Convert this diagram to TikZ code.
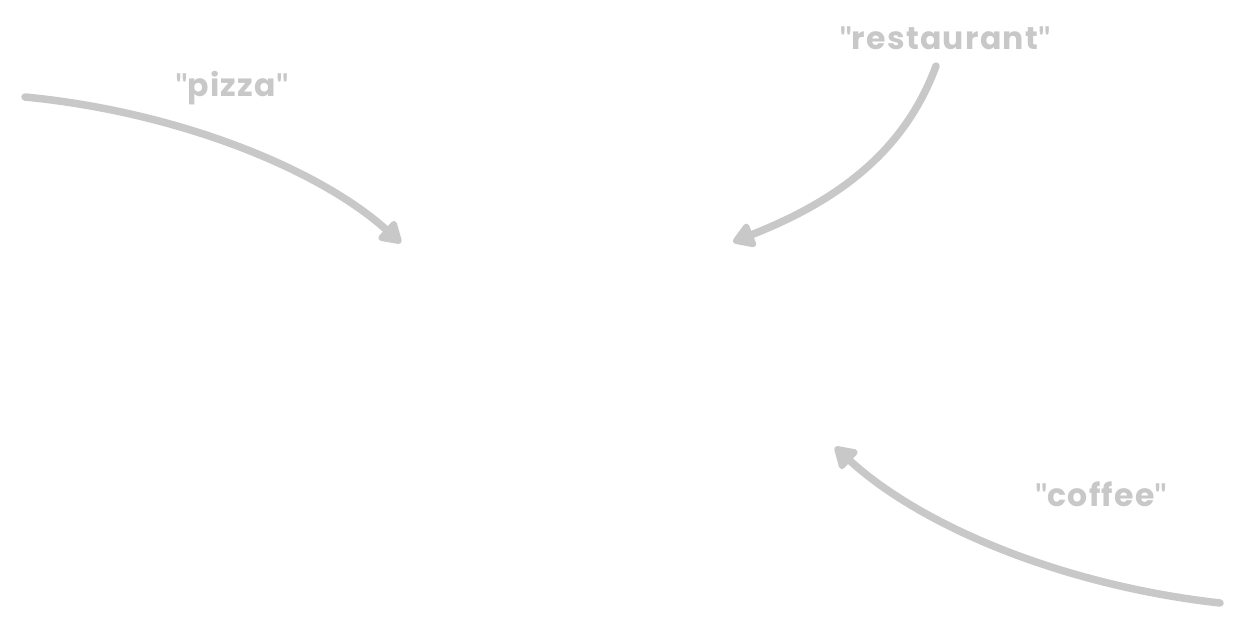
\documentclass[tikz,border=0pt]{standalone}
\usepackage{fontspec}
\setmainfont{Poppins}[LetterSpace=4]
\newfontfamily\quotefont{Lato}
\newcommand{\sq}{{\quotefont\bfseries\symbol{34}}}
\usetikzlibrary{arrows.meta}
\definecolor{sketchgray}{HTML}{C8C8C8}
\tikzset{
  lbl/.style={text=sketchgray, font=\fontsize{31.5}{34}\selectfont\bfseries, inner sep=0pt},
  sketcharrow/.style={draw=sketchgray, line width=7.5pt, line cap=round,
    -{Triangle[length=24pt, width=28pt, round]}}
}
\begin{document}
\begin{tikzpicture}[x=1pt,y=-1pt]
\useasboundingbox[fill=white] (0,0) rectangle (1245,620);
\node[lbl] (pizza) at (232,88) {\sq pizza\sq};
\node[lbl] (restaurant) at (945,38) {\sq restaurant\sq};
\node[lbl] (coffee) at (1101,494) {\sq coffee\sq};
\coordinate (a1s) at (25,97);
\coordinate (a1e) at (401,243);
\coordinate (a2s) at (936,66);
\coordinate (a2e) at (733,242);
\coordinate (a3s) at (1220,603);
\coordinate (a3e) at (835,447);
\draw[sketcharrow] (a1s) .. controls (180,112) and (320,170) .. (a1e);
\draw[sketcharrow] (a2s) .. controls (905,150) and (840,200) .. (a2e);
\draw[sketcharrow] (a3s) .. controls (1060,585) and (920,525) .. (a3e);
\end{tikzpicture}
\end{document}
